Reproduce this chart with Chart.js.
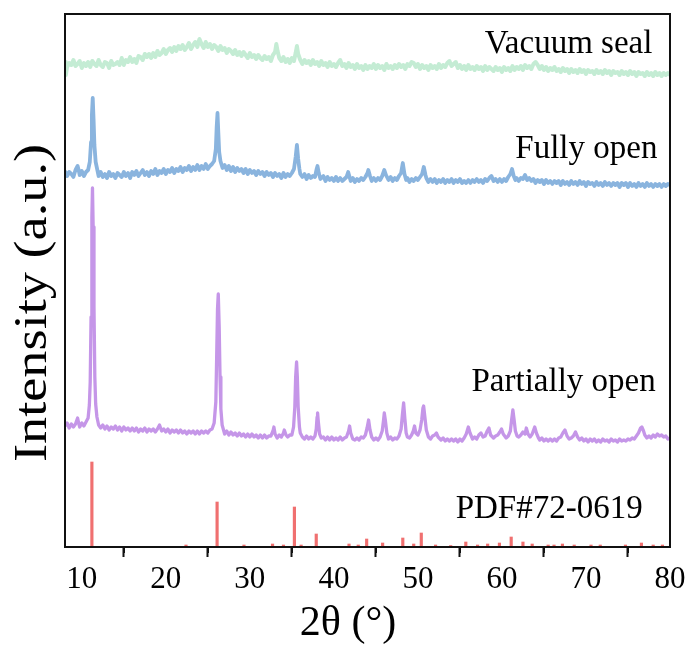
<!DOCTYPE html>
<html>
<head>
<meta charset="utf-8">
<script src="https://cdn.jsdelivr.net/npm/chart.js@4.4.1/dist/chart.umd.min.js"></script>
<style>
  html, body { margin: 0; padding: 0; background: #fff; }
  canvas { display: block; }
</style>
</head>
<body>
<canvas id="xrd" width="693" height="646"></canvas>
<script>
// XRD patterns, [2theta, intensity] (intensity in arbitrary units, traces offset)
const vacuumSeal = [[8.00,485],[8.10,472],[8.25,480],[8.50,484],[8.75,482],[9.00,487],[9.25,481],[9.50,483],[9.75,486],[10.00,479],[10.25,484],[10.50,481],[10.75,485],[11.00,480],[11.25,486],[11.50,483],[11.75,481],[12.00,487],[12.25,482],[12.50,480],[12.75,485],[13.00,484],[13.25,479],[13.50,486],[13.75,482],[14.00,483],[14.25,485],[14.50,482],[14.75,489],[15.00,482],[15.25,487],[15.50,485],[15.75,490],[16.00,485],[16.25,488],[16.50,484],[16.75,491],[17.00,490],[17.25,487],[17.50,493],[17.75,490],[18.00,493],[18.25,489],[18.50,494],[18.75,490],[19.00,496],[19.25,492],[19.50,494],[19.75,498],[20.00,493],[20.25,497],[20.50,499],[20.75,495],[21.00,500],[21.25,496],[21.50,501],[21.75,498],[22.00,502],[22.25,497],[22.50,500],[22.75,504],[23.00,498],[23.25,502],[23.50,505],[23.75,500],[24.00,508],[24.25,503],[24.50,499],[24.75,505],[25.00,500],[25.25,503],[25.50,498],[25.75,502],[26.00,500],[26.25,496],[26.50,501],[26.75,497],[27.00,499],[27.25,494],[27.50,498],[27.75,496],[28.00,493],[28.25,497],[28.50,492],[28.75,495],[29.00,491],[29.25,495],[29.50,492],[29.75,489],[30.00,494],[30.25,490],[30.50,492],[30.75,488],[31.00,492],[31.25,489],[31.50,487],[31.75,491],[32.00,488],[32.25,490],[32.50,486],[32.75,492],[33.00,495],[33.15,503],[33.30,496],[33.50,489],[33.75,486],[34.00,490],[34.25,485],[34.50,488],[34.75,484],[35.00,489],[35.25,486],[35.45,494],[35.60,501],[35.75,493],[36.00,487],[36.25,483],[36.50,487],[36.75,484],[37.00,486],[37.25,482],[37.50,487],[37.75,483],[38.00,485],[38.25,481],[38.50,486],[38.75,482],[39.00,484],[39.25,480],[39.50,485],[39.75,481],[40.00,483],[40.25,480],[40.50,484],[40.75,487],[41.00,481],[41.25,483],[41.50,479],[41.75,484],[42.00,480],[42.25,482],[42.50,478],[42.75,483],[43.00,479],[43.25,481],[43.50,477],[43.75,482],[44.00,478],[44.25,481],[44.50,479],[44.75,483],[45.00,478],[45.25,482],[45.50,479],[45.75,481],[46.00,477],[46.25,483],[46.50,479],[46.75,481],[47.00,478],[47.25,482],[47.50,479],[47.75,483],[48.00,480],[48.25,482],[48.50,478],[48.75,483],[49.00,481],[49.25,485],[49.50,484],[49.75,480],[50.00,483],[50.25,478],[50.50,482],[50.75,479],[51.00,481],[51.25,477],[51.50,482],[51.75,479],[52.00,481],[52.25,478],[52.50,483],[52.75,479],[53.00,482],[53.25,480],[53.50,484],[53.75,486],[54.00,481],[54.25,483],[54.50,485],[54.75,479],[55.00,482],[55.25,478],[55.50,481],[55.75,477],[56.00,482],[56.25,478],[56.50,480],[56.75,477],[57.00,481],[57.25,478],[57.50,480],[57.75,476],[58.00,481],[58.25,477],[58.50,480],[58.75,478],[59.00,476],[59.25,480],[59.50,477],[59.75,479],[60.00,475],[60.25,480],[60.50,477],[60.75,479],[61.00,476],[61.25,481],[61.50,477],[61.75,480],[62.00,478],[62.25,481],[62.50,477],[62.75,482],[63.00,479],[63.25,481],[63.50,478],[63.75,483],[64.00,485],[64.25,482],[64.50,478],[64.75,481],[65.00,477],[65.25,480],[65.50,476],[65.75,479],[66.00,477],[66.25,480],[66.50,476],[66.75,478],[67.00,475],[67.25,479],[67.50,476],[67.75,478],[68.00,474],[68.25,478],[68.50,475],[68.75,477],[69.00,474],[69.25,478],[69.50,475],[69.75,477],[70.00,473],[70.25,477],[70.50,475],[70.75,476],[71.00,473],[71.25,477],[71.50,474],[71.75,476],[72.00,473],[72.25,477],[72.50,474],[72.75,476],[73.00,472],[73.25,476],[73.50,474],[73.75,475],[74.00,472],[74.25,476],[74.50,473],[74.75,475],[75.00,472],[75.25,476],[75.50,473],[75.75,475],[76.00,471],[76.25,475],[76.50,473],[76.75,474],[77.00,471],[77.25,475],[77.50,472],[77.75,474],[78.00,471],[78.25,475],[78.50,472],[78.75,474],[79.00,471],[79.25,474],[79.50,472],[79.75,474],[80.00,472]];

const fullyOpen = [[8.00,376],[8.25,371],[8.50,375],[8.75,373],[9.00,370],[9.25,377],[9.50,381],[9.65,376],[9.75,372],[10.00,376],[10.25,371],[10.50,375],[10.75,377],[10.95,385],[11.10,405],[11.20,432],[11.30,449],[11.40,428],[11.50,402],[11.65,385],[11.85,377],[12.00,371],[12.25,375],[12.50,370],[12.75,373],[13.00,369],[13.25,375],[13.50,371],[13.75,373],[14.00,369],[14.25,374],[14.50,372],[14.75,370],[15.00,375],[15.25,371],[15.50,374],[15.75,369],[16.00,375],[16.25,372],[16.50,376],[16.75,371],[17.00,374],[17.25,377],[17.50,372],[17.75,375],[18.00,371],[18.25,376],[18.50,373],[18.75,378],[19.00,372],[19.25,376],[19.50,374],[19.75,378],[20.00,373],[20.25,377],[20.50,375],[20.75,379],[21.00,374],[21.25,378],[21.50,376],[21.75,380],[22.00,375],[22.25,379],[22.50,377],[22.75,381],[23.00,376],[23.25,380],[23.50,377],[23.75,382],[24.00,377],[24.25,381],[24.50,378],[24.75,383],[25.00,378],[25.25,381],[25.50,383],[25.75,386],[25.95,398],[26.05,420],[26.15,434],[26.25,414],[26.35,395],[26.50,386],[26.75,379],[27.00,382],[27.25,377],[27.50,381],[27.75,376],[28.00,380],[28.25,375],[28.50,379],[28.75,376],[29.00,378],[29.25,374],[29.50,378],[29.75,373],[30.00,377],[30.25,374],[30.50,376],[30.75,372],[31.00,376],[31.25,373],[31.50,375],[31.75,371],[32.00,375],[32.25,372],[32.50,374],[32.75,370],[33.00,374],[33.25,371],[33.50,373],[33.75,369],[34.00,374],[34.25,370],[34.50,373],[34.75,371],[35.00,374],[35.25,378],[35.45,390],[35.60,402],[35.75,388],[35.90,378],[36.00,373],[36.25,370],[36.50,373],[36.75,368],[37.00,372],[37.25,369],[37.50,371],[37.75,370],[37.95,378],[38.05,381],[38.20,374],[38.40,368],[38.75,371],[39.00,366],[39.25,370],[39.50,367],[39.75,369],[40.00,366],[40.25,370],[40.50,366],[40.75,369],[41.00,366],[41.25,368],[41.50,370],[41.70,375],[41.90,369],[42.00,366],[42.25,369],[42.50,365],[42.75,368],[43.00,366],[43.25,369],[43.50,367],[43.75,370],[44.00,374],[44.10,377],[44.30,371],[44.50,366],[44.75,369],[45.00,366],[45.25,369],[45.50,367],[45.75,371],[46.00,377],[46.20,372],[46.50,367],[46.75,370],[47.00,366],[47.25,369],[47.50,367],[47.75,371],[48.00,374],[48.20,384],[48.40,373],[48.60,367],[48.75,369],[49.00,365],[49.25,368],[49.50,366],[49.75,369],[50.00,367],[50.25,370],[50.50,373],[50.70,380],[50.90,372],[51.00,369],[51.25,365],[51.50,368],[51.75,365],[52.00,368],[52.25,364],[52.50,367],[52.75,365],[53.00,368],[53.25,364],[53.50,367],[53.75,365],[54.00,368],[54.25,364],[54.50,367],[54.75,365],[55.00,368],[55.25,364],[55.50,366],[55.75,364],[56.00,367],[56.25,364],[56.50,367],[56.75,365],[57.00,368],[57.25,365],[57.50,367],[57.75,364],[58.00,368],[58.25,366],[58.50,369],[58.75,371],[59.00,366],[59.25,368],[59.50,365],[59.75,368],[60.00,365],[60.25,368],[60.50,366],[60.75,370],[61.00,373],[61.20,378],[61.40,371],[61.60,367],[61.75,369],[62.00,366],[62.25,369],[62.50,368],[62.75,372],[63.00,367],[63.25,369],[63.50,366],[63.75,368],[64.00,364],[64.25,367],[64.50,365],[64.75,367],[65.00,363],[65.25,367],[65.50,364],[65.75,366],[66.00,363],[66.25,366],[66.50,364],[66.75,366],[67.00,362],[67.25,366],[67.50,363],[67.75,365],[68.00,362],[68.25,366],[68.50,363],[68.75,365],[69.00,362],[69.25,366],[69.50,363],[69.75,365],[70.00,361],[70.25,365],[70.50,363],[70.75,364],[71.00,361],[71.25,365],[71.50,362],[71.75,364],[72.00,361],[72.25,365],[72.50,362],[72.75,364],[73.00,361],[73.25,364],[73.50,362],[73.75,364],[74.00,360],[74.25,364],[74.50,362],[74.75,364],[75.00,360],[75.25,364],[75.50,361],[75.75,363],[76.00,360],[76.25,364],[76.50,361],[76.75,363],[77.00,360],[77.25,364],[77.50,361],[77.75,363],[78.00,360],[78.25,363],[78.50,361],[78.75,363],[79.00,360],[79.25,363],[79.50,361],[79.75,363],[80.00,362]];

const partiallyOpen = [[8.00,121],[8.25,124],[8.50,119],[8.75,123],[9.00,120],[9.25,123],[9.50,129],[9.65,123],[9.75,120],[10.00,124],[10.25,121],[10.50,125],[10.75,129],[10.90,142],[11.00,165],[11.10,230],[11.20,330],[11.27,359],[11.35,320],[11.45,240],[11.55,170],[11.65,143],[11.80,130],[12.00,122],[12.25,119],[12.50,122],[12.75,118],[13.00,121],[13.25,117],[13.50,120],[13.75,118],[14.00,121],[14.25,117],[14.50,120],[14.75,116],[15.00,120],[15.25,117],[15.50,119],[15.75,116],[16.00,119],[16.25,116],[16.50,119],[16.75,115],[17.00,118],[17.25,116],[17.50,119],[17.75,115],[18.00,118],[18.25,116],[18.50,118],[18.75,115],[19.00,118],[19.25,122],[19.50,116],[19.75,118],[20.00,115],[20.25,118],[20.50,114],[20.75,117],[21.00,115],[21.25,117],[21.50,114],[21.75,117],[22.00,114],[22.25,116],[22.50,113],[22.75,116],[23.00,114],[23.25,116],[23.50,113],[23.75,116],[24.00,113],[24.25,116],[24.50,114],[24.75,116],[25.00,114],[25.25,117],[25.50,118],[25.75,124],[25.95,145],[26.05,190],[26.15,238],[26.24,253],[26.35,220],[26.45,170],[26.55,138],[26.70,122],[26.90,116],[27.00,113],[27.25,116],[27.50,112],[27.75,115],[28.00,112],[28.25,114],[28.50,111],[28.75,114],[29.00,111],[29.25,113],[29.50,110],[29.75,113],[30.00,110],[30.25,113],[30.50,110],[30.75,112],[31.00,109],[31.25,112],[31.50,109],[31.75,112],[32.00,109],[32.25,111],[32.50,111],[32.75,116],[32.86,120],[33.00,113],[33.25,109],[33.50,112],[33.75,110],[34.00,114],[34.10,117],[34.30,112],[34.50,110],[34.75,112],[35.00,112],[35.20,120],[35.35,140],[35.45,170],[35.56,185],[35.65,170],[35.75,140],[35.90,120],[36.00,114],[36.25,110],[36.50,108],[36.75,111],[37.00,108],[37.25,110],[37.50,108],[37.75,111],[37.90,118],[38.00,130],[38.06,134],[38.15,125],[38.30,113],[38.50,109],[38.75,110],[39.00,107],[39.25,110],[39.50,107],[39.75,110],[40.00,107],[40.25,109],[40.50,107],[40.75,110],[41.00,107],[41.25,109],[41.50,110],[41.75,116],[41.87,121],[42.00,114],[42.25,108],[42.50,107],[42.75,109],[43.00,107],[43.25,110],[43.50,109],[43.75,112],[43.95,119],[44.13,127],[44.30,117],[44.50,110],[44.75,107],[45.00,109],[45.25,107],[45.50,110],[45.75,116],[45.90,126],[46.00,134],[46.12,127],[46.30,114],[46.50,108],[46.75,110],[47.00,107],[47.25,109],[47.50,108],[47.75,111],[48.00,118],[48.15,132],[48.30,144],[48.45,128],[48.60,114],[48.75,110],[49.00,109],[49.25,112],[49.45,116],[49.60,121],[49.75,114],[50.00,112],[50.25,117],[50.45,127],[50.60,139],[50.68,141],[50.80,132],[51.00,117],[51.25,110],[51.50,108],[51.75,111],[52.00,112],[52.20,114],[52.40,110],[52.75,107],[53.00,109],[53.25,106],[53.50,108],[53.75,106],[54.00,108],[54.25,106],[54.50,108],[54.75,105],[55.00,108],[55.25,106],[55.50,109],[55.75,113],[56.00,120],[56.20,114],[56.50,108],[56.75,110],[57.00,108],[57.25,112],[57.50,114],[57.75,110],[58.00,111],[58.25,116],[58.45,119],[58.65,112],[59.00,109],[59.25,111],[59.50,112],[59.75,115],[59.95,118],[60.15,113],[60.50,109],[60.75,111],[61.00,116],[61.15,127],[61.30,137],[61.45,127],[61.60,116],[61.80,111],[62.00,110],[62.25,112],[62.50,115],[62.75,113],[62.90,119],[63.10,113],[63.35,110],[63.60,113],[63.90,120],[64.10,114],[64.35,109],[64.50,107],[64.75,109],[65.00,106],[65.25,108],[65.50,106],[65.75,108],[66.00,106],[66.25,108],[66.50,106],[66.75,109],[67.00,110],[67.25,114],[67.50,117],[67.75,111],[68.00,108],[68.25,109],[68.50,111],[68.75,115],[69.00,110],[69.25,107],[69.50,109],[69.75,106],[70.00,108],[70.25,105],[70.50,108],[70.75,106],[71.00,108],[71.25,105],[71.50,107],[71.75,105],[72.00,108],[72.25,106],[72.50,107],[72.75,105],[73.00,108],[73.25,106],[73.50,107],[73.75,105],[74.00,108],[74.25,106],[74.50,107],[74.75,106],[75.00,108],[75.25,107],[75.50,109],[75.75,108],[76.00,111],[76.25,114],[76.50,119],[76.65,120],[76.85,116],[77.00,112],[77.25,109],[77.50,111],[77.75,109],[78.00,112],[78.25,110],[78.50,113],[78.75,111],[79.00,112],[79.25,110],[79.50,111],[79.75,108],[80.00,109]];

// reference pattern PDF#72-0619: [2theta, relative height]
const pdfSticks = [[11.2,85],[22.4,2],[26.1,45],[29.3,2],[32.7,3],[34.0,2],[35.3,40],[36.1,2],[37.9,13],[41.8,3],[42.9,2],[43.9,8],[45.8,4],[48.2,9],[49.5,3],[50.4,14],[52.1,2],[53.9,1.5],[55.7,5],[57.1,2],[58.3,3],[59.7,4],[61.1,10],[62.5,5],[63.6,3],[65.5,2],[66.2,2],[67.2,3],[68.6,2],[70.6,2],[71.7,2],[74.7,2],[76.6,4],[78.0,2],[79.1,2]];

const xMajorTicks = [10, 20, 30, 40, 50, 60, 70, 80];
const xMinorTicks = [15, 25, 35, 45, 55, 65, 75];

// trace labels: text, right edge 2theta, baseline intensity
const traceLabels = [
  ['Vacuum seal', 77.9, 494],
  ['Fully open', 78.5, 389],
  ['Partially open', 78.3, 156],
  ['PDF#72-0619', 76.75, 29]
];

const SERIF = "'Liberation Serif','Times New Roman',serif";
const INK = '#111';
const pts = arr => arr.map(([x, y]) => ({ x, y }));

const line = (label, data, color, w) => ({
  type: 'line', label, data: pts(data), borderColor: color, backgroundColor: color,
  borderWidth: w, pointRadius: 0, tension: 0, borderJoinStyle: 'round', order: 2
});

const decor = {
  id: 'decor',
  afterDraw(chart) {
    const { ctx, chartArea: a, scales: { x, y } } = chart;
    ctx.save();
    // frame
    ctx.strokeStyle = INK; ctx.lineWidth = 2;
    ctx.strokeRect(a.left, a.top, a.right - a.left, a.bottom - a.top);
    // minor ticks
    xMinorTicks.forEach(v => {
      const px = Math.round(x.getPixelForValue(v));
      ctx.beginPath(); ctx.moveTo(px, a.bottom); ctx.lineTo(px, a.bottom + 6); ctx.stroke();
    });
    // trace labels
    ctx.fillStyle = '#000';
    ctx.font = `33px ${SERIF}`;
    ctx.textAlign = 'right'; ctx.textBaseline = 'alphabetic';
    traceLabels.forEach(([t, tx, ty]) => ctx.fillText(t, x.getPixelForValue(tx), y.getPixelForValue(ty)));
    // axis titles
    ctx.textAlign = 'center';
    ctx.font = `42px ${SERIF}`;
    ctx.fillText('2θ (°)', 348, 635);
    ctx.translate(46, 303); ctx.rotate(-Math.PI / 2); ctx.scale(1.18, 1);
    ctx.font = `46px ${SERIF}`;
    ctx.fillText('Intensity (a.u.)', 0, 0);
    ctx.restore();
  }
};

new Chart(document.getElementById('xrd').getContext('2d'), {
  data: {
    datasets: [
      line('Vacuum seal', vacuumSeal, '#c4ecd4', 4),
      line('Fully open', fullyOpen, '#8ab4de', 3.8),
      line('Partially open', partiallyOpen, '#c596e8', 3.3),
      { type: 'bar', label: 'PDF#72-0619', data: pts(pdfSticks), backgroundColor: '#f07070',
        barThickness: 2.5, grouped: false, order: 1 }
    ]
  },
  options: {
    responsive: false, animation: false, devicePixelRatio: 1,
    layout: { padding: { left: 65, right: 23, top: 14, bottom: 0 } },
    plugins: { legend: { display: false }, tooltip: { enabled: false } },
    scales: {
      x: {
        type: 'linear', min: 8, max: 80, offset: false,
        afterBuildTicks: s => { s.ticks = xMajorTicks.map(v => ({ value: v })); },
        afterFit: s => { s.height = 99; },
        grid: { display: true, drawOnChartArea: false, drawTicks: true, tickLength: 10, tickWidth: 2, tickColor: INK },
        border: { display: true, color: INK, width: 2 },
        ticks: { color: '#000', font: { family: SERIF, size: 31 }, padding: 4, maxRotation: 0, autoSkip: false }
      },
      y: { type: 'linear', min: 0, max: 533, display: false }
    }
  },
  plugins: [decor]
});
</script>
</body>
</html>
